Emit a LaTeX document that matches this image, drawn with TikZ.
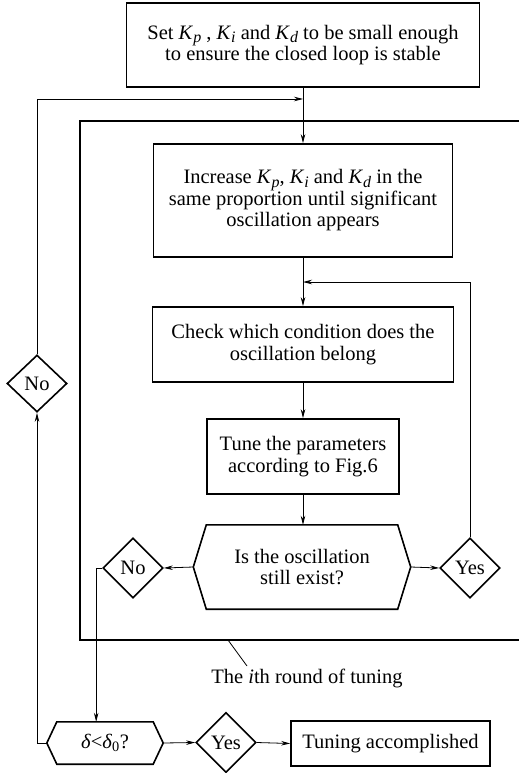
\documentclass[tikz,border=0pt]{standalone}
\usepackage{fontspec}
\setmainfont{Liberation Serif}
\usetikzlibrary{arrows.meta,shapes.geometric,calc}
\newcommand\Kv[1]{\textit{K}\raisebox{-0.35ex}{\fontsize{16}{16}\selectfont\textit{#1}}}
\tikzset{
  txt/.style={font=\fontsize{20.5}{21.5}\selectfont},
  box/.style={txt, draw, line width=1.6pt, align=center, inner sep=0pt},
  hexnode/.style={txt, align=center, inner sep=0pt},
  dia/.style={txt, draw, diamond, line width=1.6pt, minimum width=60pt, minimum height=60pt, inner sep=0pt},
  conn/.style={line width=0.8pt, -{Stealth[length=9pt,width=4.5pt]}},
  plain/.style={line width=0.8pt},
  hexline/.style={line width=1.6pt},
  frameline/.style={line width=2pt},
}
\begin{document}
\begin{tikzpicture}[x=1pt,y=-1pt]
\useasboundingbox (0,0) rectangle (519,773);
% boxes
\node[box, minimum width=353pt, minimum height=84pt] (b1) at (303,45)
  {Set \Kv{p} , \Kv{i} and \Kv{d} to be small enough\\to ensure the closed loop is stable};
\node[box, minimum width=299pt, minimum height=113pt] (b2) at (303,200.5)
  {Increase \Kv{p}, \Kv{i} and \Kv{d} in the\\same proportion until significant\\oscillation appears};
\node[box, minimum width=301pt, minimum height=75pt] (b3) at (303,344.5)
  {Check which condition does the\\oscillation belong};
\node[box, minimum width=192pt, minimum height=75pt] (b4) at (303,456.5)
  {Tune the parameters\\according to Fig.6};
\node[hexnode, minimum width=217pt, minimum height=84pt] (q) at (302,567)
  {Is the oscillation\\still exist?};
\draw[hexline] (q.west) -- ($(q.north west)+(13,0)$) -- ($(q.north east)+(-13,0)$) -- (q.east)
  -- ($(q.south east)+(-13,0)$) -- ($(q.south west)+(13,0)$) -- cycle;
\node[dia] (nl2) at (133,568) {No};
\node[dia] (yr) at (470,568) {Yes};
\node[dia, minimum height=57pt] (nl) at (37,383.5) {No};
\node[hexnode, minimum width=116pt, minimum height=42pt] (d) at (105,743)
  {\textit{δ}<\textit{δ}\textsubscript{0}?};
\draw[hexline] (d.west) -- ($(d.north west)+(10,0)$) -- ($(d.north east)+(-10,0)$) -- (d.east)
  -- ($(d.south east)+(-10,0)$) -- ($(d.south west)+(10,0)$) -- cycle;
\node[dia] (yb) at (226,742.5) {Yes};
\node[box, minimum width=199pt, minimum height=45pt] (done) at (390.5,743.5) {Tuning accomplished};
% frame
\draw[frameline] (519,121) -- (80,121) -- (80,640) -- (519,640);
\coordinate (fr) at (228,640);
\coordinate (lt) at (247,666);
\node[txt, anchor=north] (lbl) at (307,666) {The \textit{i}th round of tuning};
\draw[plain] (fr) -- (lt);
% connectors
\coordinate (j1) at (303,99);
\coordinate (j2) at (303,282);
\draw[conn] (b1.south) -- (b2.north);
\draw[conn] (b2.south) -- (b3.north);
\draw[conn] (b3.south) -- (b4.north);
\draw[conn] (b4.south) -- (q.north -| b4.south);
\draw[conn] (q.west) -- (nl2.east);
\draw[conn] (q.east) -- (yr.west);
\draw[conn] (yr.north) |- (j2);
\draw[conn] (nl.north) |- (j1);
\draw[plain] (nl2.west) -- ++(-6,0) coordinate (t);
\draw[conn] (t) -- (t |- d.north);
\draw[conn] (d.west) -| (nl.south);
\draw[conn] (d.east) -- (yb.west);
\draw[conn] (yb.east) -- (done.west);
\end{tikzpicture}
\end{document}
